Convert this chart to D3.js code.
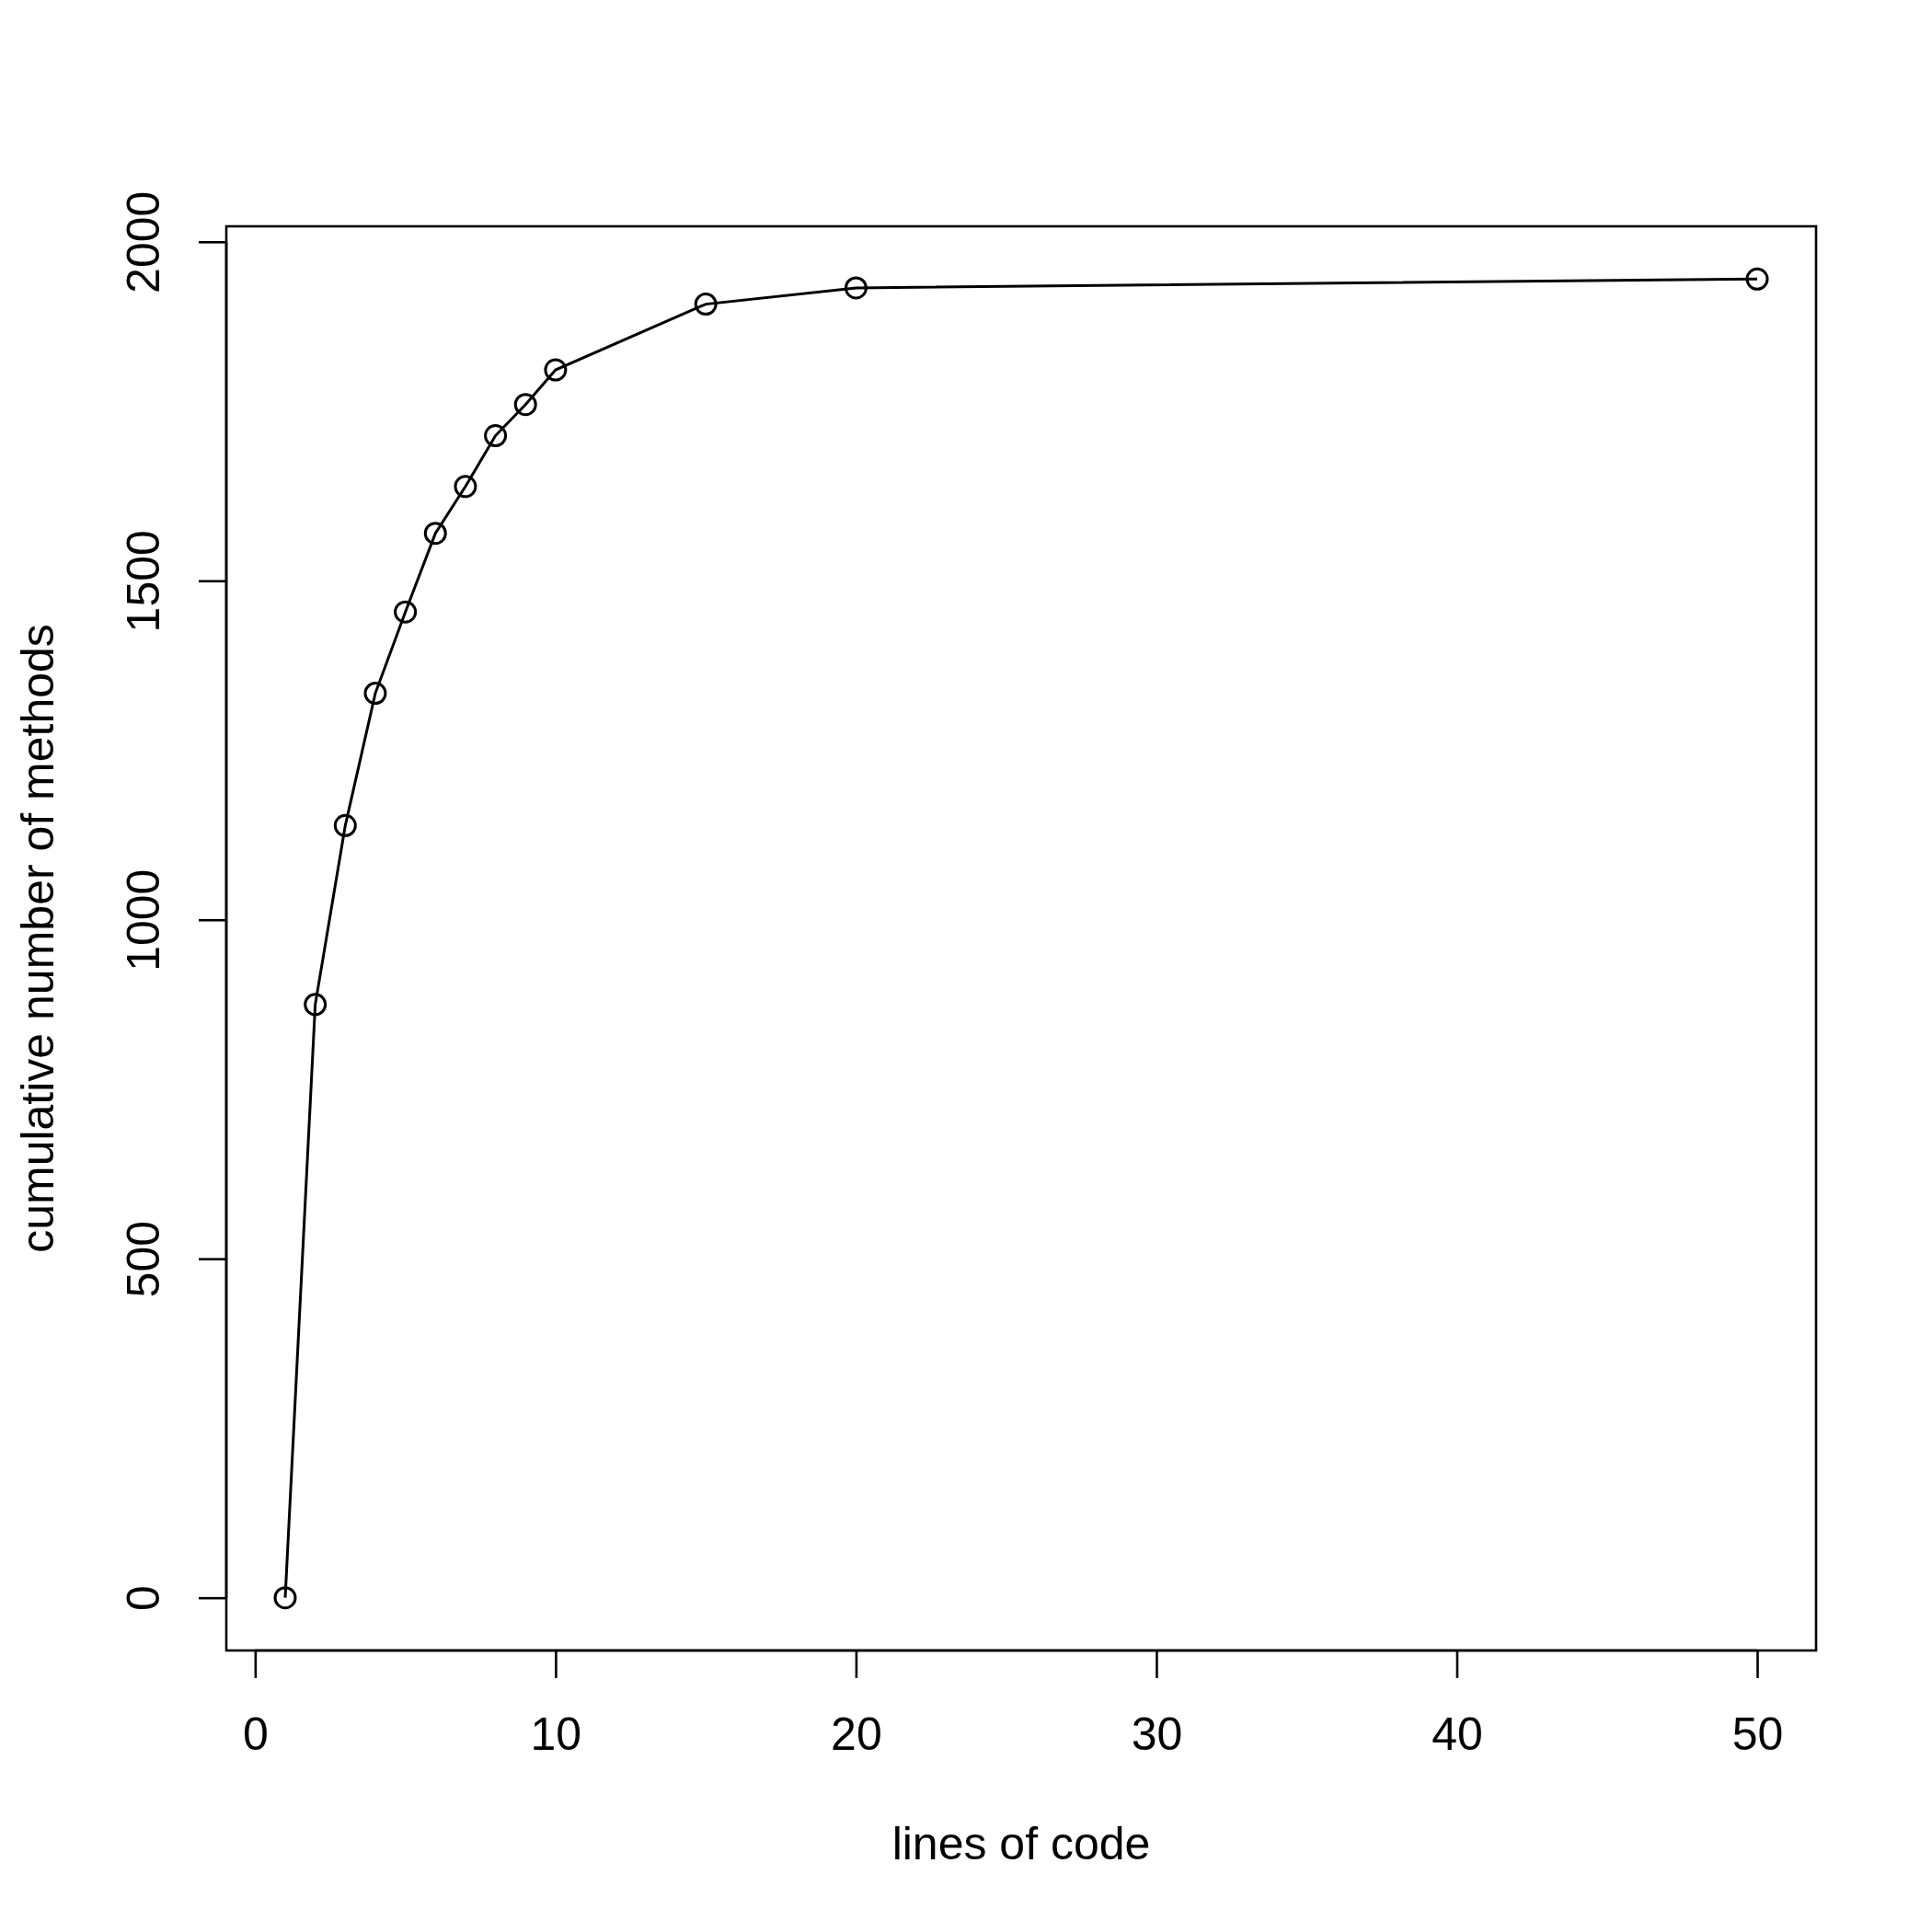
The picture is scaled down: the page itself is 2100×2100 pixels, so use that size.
<!DOCTYPE html>
<html>
<head>
<meta charset="utf-8">
<script src="https://cdn.jsdelivr.net/npm/d3@7"></script>
<style>
  html, body { margin: 0; padding: 0; background: #fff; }
  svg { display: block; }
  text { font-family: "Liberation Sans", Arial, Helvetica, sans-serif; fill: #000; }
</style>
</head>
<body>
<svg id="chart" width="2100" height="2100"></svg>
<script>
const linesOfCode = [1, 2, 3, 4, 5, 6, 7, 8, 9, 10, 15, 20, 50];
const cumulativeMethods = [0, 875, 1139, 1334, 1454, 1570, 1639, 1714, 1760, 1811, 1908, 1932, 1945];
const xTicks = [0, 10, 20, 30, 40, 50];
const yTicks = [0, 500, 1000, 1500, 2000];
const xLabel = "lines of code";
const yLabel = "cumulative number of methods";

const W = 2100, H = 2100;
const plot = { left: 246, right: 1974, top: 246, bottom: 1794 };

const svg = d3.select("#chart");
svg.append("rect").attr("width", W).attr("height", H).attr("fill", "#fff");

// R-style 4% range extension
const xmin = d3.min(linesOfCode), xmax = d3.max(linesOfCode);
const ymin = d3.min(cumulativeMethods), ymax = d3.max(cumulativeMethods);
const xr = xmax - xmin, yr = ymax - ymin;
const x = d3.scaleLinear().domain([xmin - 0.04 * xr, xmax + 0.04 * xr]).range([plot.left, plot.right]);
const y = d3.scaleLinear().domain([ymin - 0.04 * yr, ymax + 0.04 * yr]).range([plot.bottom, plot.top]);

const SW = 2.6;
const DSW = 3;
const fontSize = 50;

// plot box
svg.append("rect")
  .attr("x", plot.left).attr("y", plot.top)
  .attr("width", plot.right - plot.left).attr("height", plot.bottom - plot.top)
  .attr("fill", "none").attr("stroke", "#000").attr("stroke-width", SW);

// x axis
const xAxis = d3.axisBottom(x).tickValues(xTicks).tickSize(30).tickSizeOuter(0).tickPadding(42).tickFormat(d3.format("d"));
const gx = svg.append("g").attr("transform", `translate(0,${plot.bottom})`).call(xAxis);
gx.select(".domain").remove();
gx.selectAll(".tick line").attr("stroke", "#000").attr("stroke-width", SW);
gx.selectAll(".tick text").attr("font-size", fontSize).attr("font-family", "Liberation Sans, Arial, sans-serif").attr("fill", "#000");
gx.append("line")
  .attr("x1", x(xTicks[0])).attr("x2", x(xTicks[xTicks.length - 1]))
  .attr("y1", 0).attr("y2", 0)
  .attr("stroke", "#000").attr("stroke-width", SW);

// y axis
const yAxis = d3.axisLeft(y).tickValues(yTicks).tickSize(30).tickSizeOuter(0).tickFormat(d3.format("d"));
const gy = svg.append("g").attr("transform", `translate(${plot.left},0)`).call(yAxis);
gy.select(".domain").remove();
gy.selectAll(".tick line").attr("stroke", "#000").attr("stroke-width", SW);
gy.selectAll(".tick text")
  .attr("font-size", fontSize).attr("font-family", "Liberation Sans, Arial, sans-serif").attr("fill", "#000")
  .attr("x", null).attr("dy", null)
  .attr("text-anchor", "middle")
  .attr("transform", `translate(${173 - plot.left},0) rotate(-90)`);
gy.append("line")
  .attr("x1", 0).attr("x2", 0)
  .attr("y1", y(yTicks[0])).attr("y2", y(yTicks[yTicks.length - 1]))
  .attr("stroke", "#000").attr("stroke-width", SW);

// axis titles
svg.append("text")
  .attr("x", (plot.left + plot.right) / 2).attr("y", 2021)
  .attr("text-anchor", "middle").attr("font-size", fontSize)
  .text(xLabel);
svg.append("text")
  .attr("transform", `translate(58,${(plot.top + plot.bottom) / 2}) rotate(-90)`)
  .attr("text-anchor", "middle").attr("font-size", fontSize)
  .text(yLabel);

// data line
const pts = linesOfCode.map((d, i) => [d, cumulativeMethods[i]]);
svg.append("path")
  .datum(pts)
  .attr("fill", "none").attr("stroke", "#000").attr("stroke-width", DSW)
  .attr("d", d3.line().x(d => x(d[0])).y(d => y(d[1])));

// points (open circles)
svg.append("g").selectAll("circle")
  .data(pts).join("circle")
  .attr("cx", d => x(d[0])).attr("cy", d => y(d[1]))
  .attr("r", 11)
  .attr("fill", "none").attr("stroke", "#000").attr("stroke-width", DSW);
</script>
</body>
</html>
